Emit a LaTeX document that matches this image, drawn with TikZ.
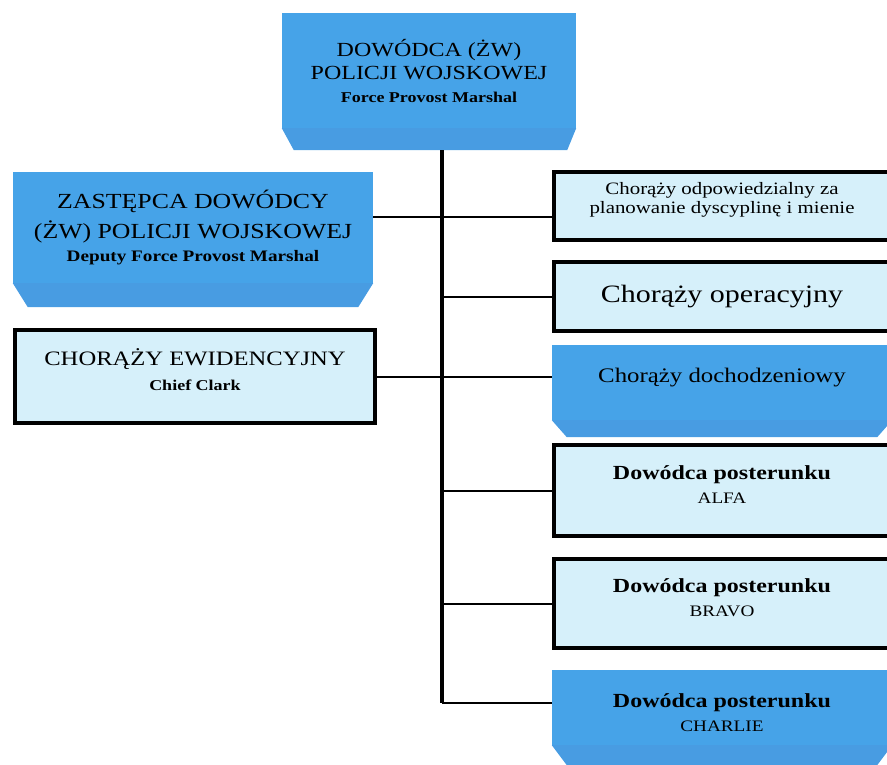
\documentclass[tikz,border=0pt]{standalone}
\usepackage{fontspec}
\setmainfont{Liberation Serif}[FakeStretch=1.2]
\definecolor{orgblue}{RGB}{70,163,232}
\definecolor{orgbevel}{RGB}{72,156,226}
\definecolor{orglight}{RGB}{214,240,250}
\newcommand*\fs[2]{\fontsize{#1}{#2}\selectfont}
\tikzset{
  bluebox/.style={fill=orgblue, inner sep=0pt, align=center},
  lightbox/.style={fill=orglight, draw=black, line width=4pt, inner sep=0pt, align=center},
  bevel/.style={fill=orgbevel},
  branch/.style={line width=2pt},
  trunk/.style={line width=3.5pt}
}

\begin{document}
\begin{tikzpicture}[x=1pt,y=-1pt]
  \useasboundingbox (0,0) rectangle (887,764);
  \clip (0,0) rectangle (887,764);

  % Left column
  \node[bluebox, minimum width=294pt, minimum height=115pt, font=\fs{20}{23}] (fpm) at (429,70.5)
    {DOWÓDCA (ŻW)\\POLICJI WOJSKOWEJ\\{\fs{15}{17}\bfseries Force Provost Marshal}};
  \fill[bevel] (fpm.south west) -- (fpm.south east) -- ++(-9,22) -- ([shift={(12,22)}]fpm.south west) -- cycle;

  \node[bluebox, minimum width=360pt, minimum height=111pt, font=\fs{21.5}{30}] (dfpm) at (193,227.5)
    {ZASTĘPCA DOWÓDCY\\(ŻW) POLICJI WOJSKOWEJ\\[-7pt]{\fs{16}{18}\bfseries Deputy Force Provost Marshal}};
  \fill[bevel] (dfpm.south west) -- (dfpm.south east) -- ++(-15,24) -- ([shift={(15,24)}]dfpm.south west) -- cycle;

  \node[lightbox, minimum width=360pt, minimum height=93pt, font=\fs{20.5}{25}, text depth=14pt] (clerk) at (195,376.5)
    {CHORĄŻY EWIDENCYJNY\\{\fs{15}{17}\bfseries Chief Clark}};

  % Right column
  \node[lightbox, minimum width=336pt, minimum height=68pt, font=\fs{17.4}{18.5}, text depth=16pt] (plan) at (722,206)
    {Chorąży odpowiedzialny za\\planowanie dyscyplinę i mienie};
  \node[lightbox, minimum width=336pt, minimum height=69pt, font=\fs{25}{28}] (ops) at (722,296.5)
    {Chorąży operacyjny};
  \node[bluebox, minimum width=340pt, minimum height=75pt, font=\fs{20.7}{24}, text depth=14pt] (inv) at (722,382.5)
    {Chorąży dochodzeniowy};
  \fill[bevel] (inv.south west) -- (inv.south east) -- ++(-15,17) -- ([shift={(15,17)}]inv.south west) -- cycle;
  \node[lightbox, minimum width=336pt, minimum height=91pt, font=\fs{20}{24}, text depth=12pt] (alfa) at (722,490.5)
    {{\bfseries Dowódca posterunku}\\{\fs{16}{18}ALFA}};
  \node[lightbox, minimum width=336pt, minimum height=89pt, font=\fs{20}{24}, text depth=12pt] (bravo) at (722,603.5)
    {{\bfseries Dowódca posterunku}\\{\fs{16}{18}BRAVO}};
  \node[bluebox, minimum width=340pt, minimum height=75pt, font=\fs{20}{24}, text height=48pt] (charlie) at (722,707.5)
    {{\bfseries Dowódca posterunku}\\{\fs{16}{18}CHARLIE}};
  \fill[bevel] (charlie.south west) -- (charlie.south east) -- ++(-15,20) -- ([shift={(15,20)}]charlie.south west) -- cycle;

  % Connectors
  \coordinate (t0) at (442,150);
  \coordinate (t1) at (442,703);
  \coordinate (j1) at (442,217);
  \draw[trunk] (t0) -- (t1);
  \draw[branch] (dfpm.east |- j1) -- (plan.west |- j1);
  \draw[branch] (ops.west) -- (ops.west -| t0);
  \draw[branch] (clerk.east) -- (inv.west |- clerk.east);
  \draw[branch] (alfa.west) -- (alfa.west -| t0);
  \draw[branch] (bravo.west) -- (bravo.west -| t0);
  \draw[branch] (charlie.west |- t1) -- (t1);
\end{tikzpicture}
\end{document}
